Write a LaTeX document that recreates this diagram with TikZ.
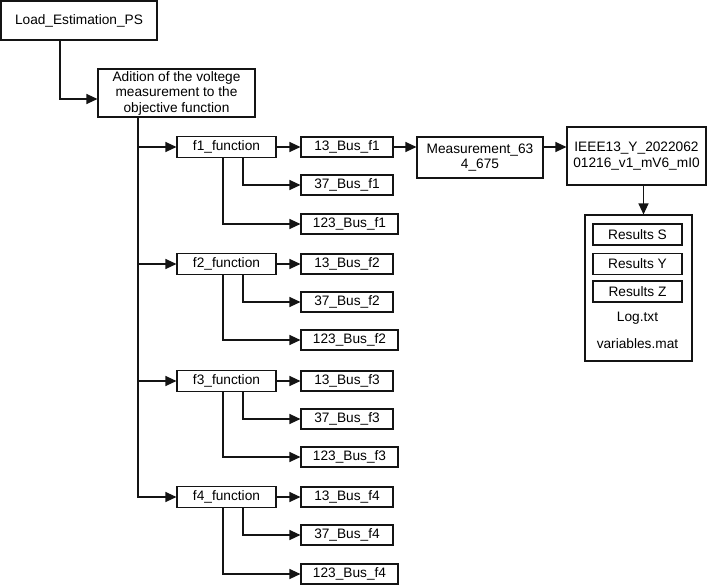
\documentclass[tikz,border=0pt]{standalone}
\usepackage{fontspec}
\setmainfont{Liberation Sans}
\usetikzlibrary{arrows.meta,calc,positioning}
\definecolor{wireblack}{RGB}{20,20,20}
\tikzset{
  flow/.style={-{Triangle[length=11pt,width=10pt]},draw=wireblack,line width=1.2pt},
  box/.style={draw=wireblack,line width=1.1pt,fill=white,inner sep=2pt,align=center,
              font=\fontsize{13.7}{15.5}\selectfont},
  func/.style={box,minimum width=99pt,minimum height=21pt},
  bus/.style={box,minimum width=92pt,minimum height=20pt},
  buswide/.style={bus,minimum width=97pt},
  resbox/.style={box,minimum width=89pt,minimum height=21pt},
  plain/.style={font=\fontsize{13.7}{15.5}\selectfont,inner sep=1pt},
}
\begin{document}
\begin{tikzpicture}[x=1pt,y=-1pt]
  \path[use as bounding box] (0,0) rectangle (714,586);

  \node[box,minimum width=156pt,minimum height=39pt] (load) at (79,20.5) {Load\_Estimation\_PS};
  \node[box,minimum width=157pt,minimum height=48pt] (add) at (176.5,93)
    {Adition of the voltege\\measurement to the\\objective function};

  % objective functions
  \node[func] (f1) at (226.5,147) {f1\_function};
  \node[func] (f2) at (226.5,264) {f2\_function};
  \node[func] (f3) at (226.5,381) {f3\_function};
  \node[func] (f4) at (226.5,497) {f4\_function};

  % bus systems
  \node[bus] (b13f1) at (347,147) {13\_Bus\_f1};
  \node[bus] (b37f1) at (347,185) {37\_Bus\_f1};
  \node[buswide] (b123f1) at (349.5,224) {123\_Bus\_f1};
  \node[bus] (b13f2) at (347,264) {13\_Bus\_f2};
  \node[bus] (b37f2) at (347,302) {37\_Bus\_f2};
  \node[buswide] (b123f2) at (349.5,340) {123\_Bus\_f2};
  \node[bus] (b13f3) at (347,381) {13\_Bus\_f3};
  \node[bus] (b37f3) at (347,419) {37\_Bus\_f3};
  \node[buswide] (b123f3) at (349.5,457) {123\_Bus\_f3};
  \node[bus] (b13f4) at (347,497) {13\_Bus\_f4};
  \node[bus] (b37f4) at (347,535) {37\_Bus\_f4};
  \node[buswide] (b123f4) at (349.5,574) {123\_Bus\_f4};

  \node[box,minimum width=126pt,minimum height=41pt] (meas) at (480,157.5)
    {Measurement\_63\\4\_675};
  \node[box,minimum width=139pt,minimum height=58pt] (ieee) at (636.5,156)
    {IEEE13\_Y\_2022062\\01216\_v1\_mV6\_mI0};

  % results folder
  \node[box,minimum width=107pt,minimum height=146pt] (res) at (638.5,288) {};
  \node[resbox] (resS) at (637.5,234.5) {Results S};
  \node[resbox] (resY) at (637.5,264) {Results Y};
  \node[resbox] (resZ) at (637.5,291.5) {Results Z};
  \node[plain] (logf) at (637.5,318) {Log.txt};
  \node[plain] (varf) at (637.5,344) {variables.mat};

  \draw[flow] ([xshift=-19pt]load.south) |- ([yshift=-6pt]add.west);
  \draw[flow] ([xshift=-38.5pt]add.south) |- (f1.west);
  \draw[flow] ([xshift=-38.5pt]add.south) |- (f2.west);
  \draw[flow] ([xshift=-38.5pt]add.south) |- (f3.west);
  \draw[flow] ([xshift=-38.5pt]add.south) |- (f4.west);

  \draw[flow] (f1.east) -- (b13f1.west);
  \draw[flow] ([xshift=16.5pt]f1.south) |- (b37f1.west);
  \draw[flow] ([xshift=-3.5pt]f1.south) |- (b123f1.west);
  \draw[flow] (f2.east) -- (b13f2.west);
  \draw[flow] ([xshift=16.5pt]f2.south) |- (b37f2.west);
  \draw[flow] ([xshift=-3.5pt]f2.south) |- (b123f2.west);
  \draw[flow] (f3.east) -- (b13f3.west);
  \draw[flow] ([xshift=16.5pt]f3.south) |- (b37f3.west);
  \draw[flow] ([xshift=-3.5pt]f3.south) |- (b123f3.west);
  \draw[flow] (f4.east) -- (b13f4.west);
  \draw[flow] ([xshift=16.5pt]f4.south) |- (b37f4.west);
  \draw[flow] ([xshift=-3.5pt]f4.south) |- (b123f4.west);

  \draw[flow] (b13f1.east) -- (meas.west |- b13f1.east);
  \draw[flow] (meas.east |- b13f1.east) -- (ieee.west |- b13f1.east);
  \draw[flow] ([xshift=7pt]ieee.south) -- ([xshift=7pt]ieee.south |- res.north);
\end{tikzpicture}
\end{document}
